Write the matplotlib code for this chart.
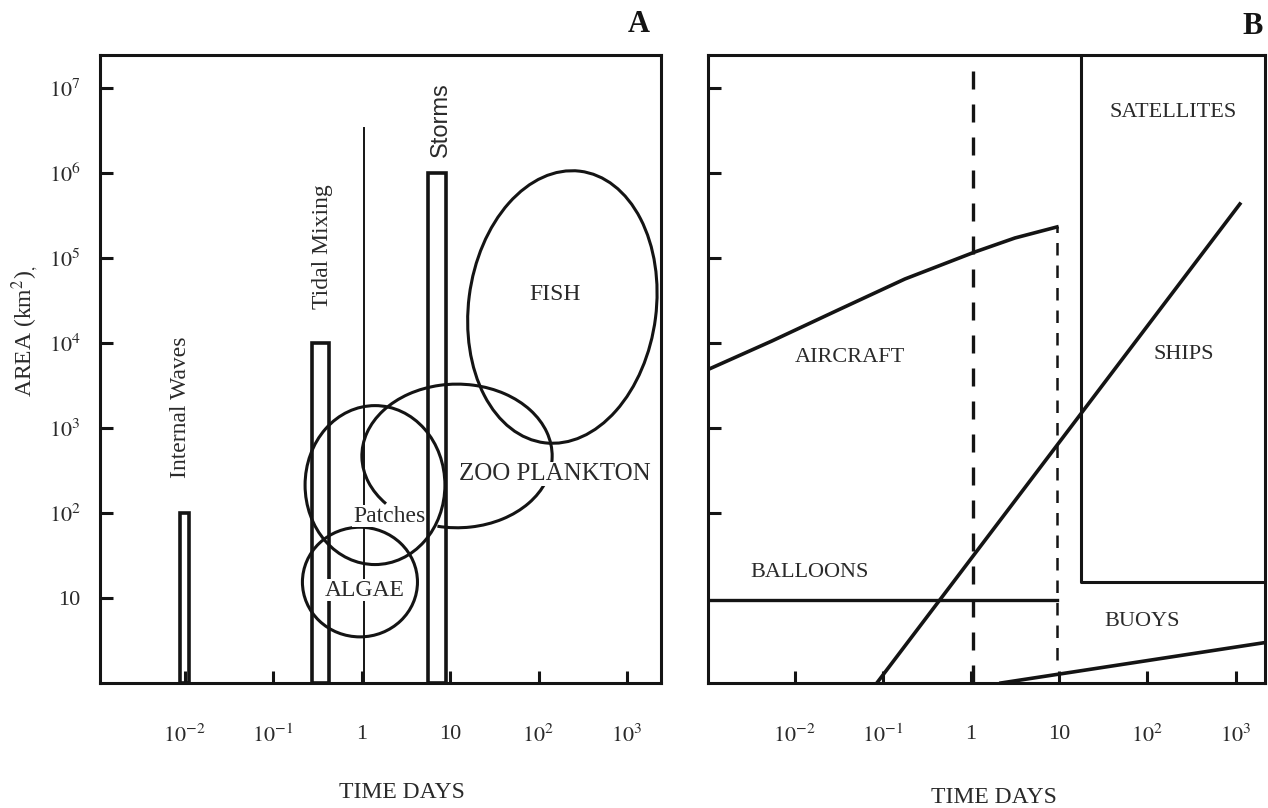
import numpy as np
import matplotlib.pyplot as plt
from matplotlib.patches import Ellipse, Arc

plt.rcParams['font.family'] = ['Liberation Serif', 'DejaVu Serif']
plt.rcParams['mathtext.fontset'] = 'stix'

ink = '#141414'
txt = '#2a2a2a'

# shared axis ticks
x_ticks = [1e-2, 1e-1, 1, 10, 1e2, 1e3]
x_labels = [r'$10^{-2}$', r'$10^{-1}$', '1', '10', r'$10^{2}$', r'$10^{3}$']
y_ticks = [10, 1e2, 1e3, 1e4, 1e5, 1e6, 1e7]
y_labels = ['10', r'$10^{2}$', r'$10^{3}$', r'$10^{4}$', r'$10^{5}$', r'$10^{6}$', r'$10^{7}$']

# ---- panel A: phenomena ----
bar_names = ['Internal Waves', 'Tidal Mixing', 'Storms']
bar_left = [0.0088, 0.276, 5.64]
bar_right = [0.0112, 0.430, 9.02]
bar_top = [1e2, 1e4, 1e6]
bar_label_t = [0.0089, 0.36, 7.9]
bar_label_area = [1770, 134600, 4.2e6]

day_line_t = 1.06
day_line_top = 3.4e6

blob_names = ['FISH', 'Patches', 'ALGAE']
blob_t = [186, 1.42, 0.96]
blob_area = [26500, 213, 15.4]
blob_w = [2.12, 1.58, 1.30]      # decades
blob_h = [3.22, 1.87, 1.29]      # decades
blob_tilt = [-7, 0, 0]
blob_label_t = [153, 2.05, 1.10]
blob_label_area = [36700, 92, 12.4]

zoo_t, zoo_area = 12.0, 469
zoo_w, zoo_h = 2.15, 1.69
zoo_from, zoo_to = 255, 215
zoo_label_t, zoo_label_area = 153, 288

# ---- panel B: platforms ----
aircraft_t = [0.00105, 0.00551, 0.0309, 0.1774, 1.104, 3.14, 9.4]
aircraft_area = [4900, 10560, 24400, 56600, 117700, 171900, 231700]
dash_main_t = 1.05
dash_end_t = 9.4
dash_end_bottom = 1.87
balloon_t = [0.00105, 9.4]
balloon_area = [9.5, 9.5]
ships_t = [0.0853, 1117]
ships_area = [1.0, 432000]
sat_t = [17.6, 17.6, 2200]
sat_area = [3e7, 15.4, 15.4]
buoys_t = [2.18, 2200]
buoys_area = [1.0, 3.0]

b_names = ['AIRCRAFT', 'SATELLITES', 'SHIPS', 'BALLOONS', 'BUOYS']
b_label_t = [0.0423, 198, 260, 0.01486, 86.5]
b_label_area = [6840, 5.08e6, 7230, 19.7, 5.22]

fig = plt.figure(figsize=(12.68, 8.08), dpi=100)
axA = fig.add_axes([100 / 1268, 125 / 808, 561 / 1268, 628 / 808])
axB = fig.add_axes([708 / 1268, 125 / 808, 557 / 1268, 628 / 808])

for ax, xl in [(axA, (10**-2.955, 10**3.384)), (axB, (10**-2.984, 10**3.333))]:
    ax.set_xscale('log')
    ax.set_yscale('log')
    ax.set_xlim(*xl)
    ax.set_ylim(1, 10**7.388)
    ax.minorticks_off()
    ax.set_xticks(x_ticks)
    ax.set_xticklabels(x_labels)
    for s in ax.spines.values():
        s.set_linewidth(2.2)
        s.set_color(ink)
    ax.tick_params(direction='in', length=9, width=2.2, color=ink,
                   labelsize=16, labelcolor=txt)
    ax.tick_params(axis='x', pad=30)
    ax.tick_params(axis='y', pad=14)

axA.set_yticks(y_ticks)
axA.set_yticklabels(y_labels)
axB.set_yticks(y_ticks[1:])
axB.set_yticklabels([])

# panel A
for name, x0, x1, top, lt, la in zip(bar_names, bar_left, bar_right, bar_top,
                                      bar_label_t, bar_label_area):
    axA.bar(x0, top - 1, width=x1 - x0, bottom=1, align='edge', fill=False,
            edgecolor=ink, linewidth=2.6)
    fam = ['Liberation Sans'] if name == 'Storms' else ['Liberation Serif']
    axA.text(lt, la, name, rotation=90, ha='center', va='center', fontsize=17,
             color=txt, family=fam)

axA.plot([day_line_t, day_line_t], [1, day_line_top], color=ink, lw=1.4)

logspace = axA.transLimits + axA.transAxes
for name, t, a, w, h, tilt, lt, la in zip(blob_names, blob_t, blob_area, blob_w,
                                          blob_h, blob_tilt, blob_label_t, blob_label_area):
    axA.add_patch(Ellipse((np.log10(t), np.log10(a)), w, h, angle=tilt, fill=False,
                          edgecolor=ink, lw=2.2, transform=logspace))
    bb = None if name == 'FISH' else dict(facecolor='white', edgecolor='none', pad=0.5)
    axA.text(lt, la, name, ha='center', va='center', fontsize=17, color=txt,
             bbox=bb, zorder=5)

axA.add_patch(Arc((np.log10(zoo_t), np.log10(zoo_area)), zoo_w, zoo_h,
                  theta1=zoo_from, theta2=zoo_to, edgecolor=ink, lw=2.2,
                  transform=logspace))
axA.text(zoo_label_t, zoo_label_area, 'ZOO PLANKTON', ha='center', va='center',
         fontsize=18, color=txt,
         bbox=dict(facecolor='white', edgecolor='none', pad=0.5), zorder=5)

axA.set_ylabel('AREA (km$^2$)$_,$', fontsize=17, color=txt)
axA.yaxis.set_label_coords(-0.107, 0.56)
axA.set_xlabel('TIME DAYS', fontsize=17, color=txt)
axA.xaxis.set_label_coords(0.538, -0.158)

# panel B
axB.plot(aircraft_t, aircraft_area, color=ink, lw=2.6)
axB.plot([dash_main_t, dash_main_t], [1, 10**7.388], color=ink, lw=2.4,
         dashes=(5.4, 4.5))
axB.plot([dash_end_t, dash_end_t], [dash_end_bottom, aircraft_area[-1]], color=ink,
         lw=1.8, dashes=(5, 4))
axB.plot(balloon_t, balloon_area, color=ink, lw=2.4)
axB.plot(ships_t, ships_area, color=ink, lw=2.6)
axB.plot(sat_t, sat_area, color=ink, lw=2.2)
axB.plot(buoys_t, buoys_area, color=ink, lw=2.6)
for name, t, a in zip(b_names, b_label_t, b_label_area):
    axB.text(t, a, name, ha='center', va='center', fontsize=16, color=txt)

axB.set_xlabel('TIME DAYS', fontsize=17, color=txt)
axB.xaxis.set_label_coords(0.513, -0.166)

fig.text(639 / 1268, 1 - 24 / 808, 'A', fontsize=22, fontweight='bold',
         ha='center', va='center', color=ink)
fig.text(1253 / 1268, 1 - 26 / 808, 'B', fontsize=22, fontweight='bold',
         ha='center', va='center', color=ink)

fig.savefig('out.png', dpi=100)
